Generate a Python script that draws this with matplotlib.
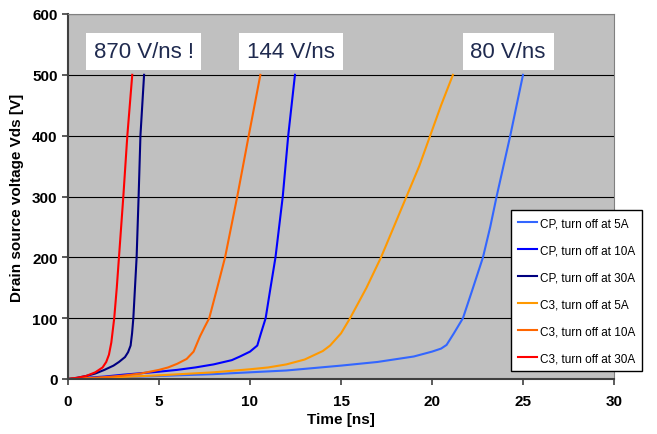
import matplotlib
matplotlib.use('Agg')
import matplotlib.pyplot as plt

plt.rcParams['font.family'] = ['Liberation Sans', 'DejaVu Sans']

# time [ns] / Vds [V]
cp5_t = [0, 2, 5, 8, 10, 12, 15, 17, 19, 20, 20.5, 20.8, 21.2, 21.7, 22.2, 22.8, 23.2, 23.55, 24.0, 24.3, 24.65, 25.0]
cp5_v = [0, 2, 5, 8, 11, 14, 22, 28, 37, 45, 50, 56, 75, 100, 145, 200, 250, 300, 360, 400, 450, 500]
cp10_t = [0, 1, 2, 3, 4, 5, 6, 7, 8, 9, 9.45, 10, 10.4, 10.6, 10.86, 11.1, 11.4, 11.6, 11.8, 12.1, 12.47]
cp10_v = [0, 2, 4, 7, 9.5, 12, 15, 19, 24, 31, 37, 45, 55, 75, 100, 145, 200, 250, 300, 400, 500]
cp30_t = [0, 0.5, 1, 1.5, 2, 2.5, 2.8, 3.13, 3.3, 3.44, 3.52, 3.59, 3.68, 3.77, 3.88, 3.98, 4.18]
cp30_v = [0, 2, 5, 9, 15, 22, 28, 36, 44, 55, 75, 100, 150, 200, 300, 400, 500]
c35_t = [0, 2, 5, 8, 10, 11, 12, 13, 14, 14.4, 15, 15.5, 16.4, 17.2, 17.9, 18.6, 19.3, 19.9, 20.5, 21.15]
c35_v = [0, 2, 6, 11, 16, 19, 24, 32, 46, 55, 75, 100, 150, 200, 250, 300, 350, 400, 450, 500]
c310_t = [0, 1, 2, 3, 4, 5, 5.5, 6, 6.52, 6.9, 7.25, 7.5, 7.76, 8.2, 8.63, 9.3, 9.93, 10.57]
c310_v = [0, 1.5, 3, 5.5, 9, 15, 19, 25, 33, 45, 70, 85, 100, 150, 200, 300, 400, 500]
c330_t = [0, 0.5, 1, 1.5, 1.9, 2.1, 2.25, 2.38, 2.46, 2.54, 2.68, 2.8, 3.04, 3.26, 3.53]
c330_v = [0, 2, 5, 11, 19, 28, 40, 60, 80, 100, 150, 200, 300, 400, 500]

labels = ["CP, turn off at 5A", "CP, turn off at 10A", "CP, turn off at 30A",
          "C3, turn off at 5A", "C3, turn off at 10A", "C3, turn off at 30A"]
colors = ["#3366FF", "#0000FF", "#000080", "#FF9900", "#FF6600", "#FF0000"]

notes = ["870 V/ns !", "144 V/ns", "80 V/ns"]
note_t = [4.16, 12.25, 24.18]
note_v = [538, 538, 538]

fig = plt.figure(figsize=(6.57, 4.35), dpi=100)
ax = fig.add_axes([68/657, 55/435, 546/657, 365/435])
ax.set_facecolor('#C0C0C0')

series = [(cp5_t, cp5_v), (cp10_t, cp10_v), (cp30_t, cp30_v),
          (c35_t, c35_v), (c310_t, c310_v), (c330_t, c330_v)]
for (t, v), lab, col in zip(series, labels, colors):
    ax.plot(t, v, color=col, linewidth=1.5, label=lab, solid_joinstyle='round')

ax.set_xlim(0, 30)
ax.set_ylim(0, 600)
ax.set_xticks(range(0, 31, 5))
ax.set_yticks(range(0, 601, 100))
ax.yaxis.grid(True, color='black', linewidth=0.8)
ax.set_axisbelow(True)
for s in ['top', 'right']:
    ax.spines[s].set_color('#808080')
for s in ['left', 'bottom']:
    ax.spines[s].set_color('#404040')
    ax.spines[s].set_linewidth(1.5)
ax.tick_params(direction='out', length=4, width=1.2, labelsize=11, color='#404040')
for lbl in ax.get_xticklabels() + ax.get_yticklabels():
    lbl.set_fontweight('bold')
ax.tick_params(axis='x', pad=7)

ax.set_xlabel("Time [ns]", fontsize=11, fontweight='bold', labelpad=3)
ax.set_ylabel("Drain source voltage Vds [V]", fontsize=11, fontweight='bold', labelpad=6)

for txt, x, y in zip(notes, note_t, note_v):
    ax.text(x, y, txt, fontsize=16, color='#1F2A4F', ha='center', va='center',
            bbox=dict(facecolor='white', edgecolor='none', boxstyle='square,pad=0.35'))

fig.legend(loc='upper left', bbox_to_anchor=(511/657, 1 - 211/435), fontsize=8.5,
           frameon=True, fancybox=False, edgecolor='black', framealpha=1,
           handlelength=1.6, borderaxespad=0, labelspacing=1.27, handletextpad=0.25,
           borderpad=0.6)

fig.savefig('out.png', dpi=100)
